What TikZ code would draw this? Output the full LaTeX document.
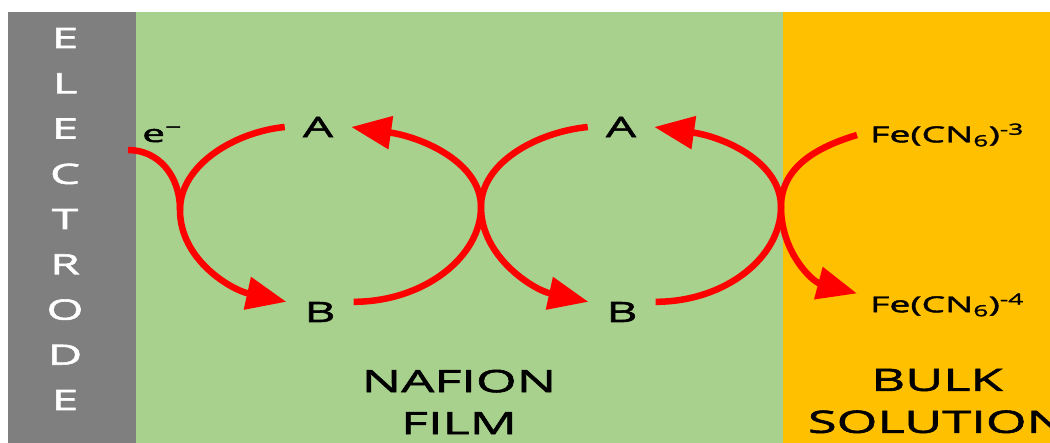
\documentclass[tikz,border=0pt]{standalone}
\usepackage{fontspec}
\setmainfont{Open Sans}[FakeStretch=1.7, FakeBold=2]
\usetikzlibrary{arrows.meta,positioning}
\definecolor{electrodegray}{HTML}{7F7F7F}
\definecolor{nafiongreen}{HTML}{A9D18E}
\definecolor{bulkorange}{HTML}{FFC000}
\definecolor{redoxred}{HTML}{FF0000}

\begin{document}
\begin{tikzpicture}[
  x=1pt, y=-1pt,
  redox/.style={draw=redoxred, line width=6.5pt},
  flow/.style={redox, -{Triangle[length=40pt, width=32pt]}},
  species/.style={font=\fontsize{28}{30}\selectfont, inner xsep=18pt, inner ysep=0pt, text depth=0pt},
  ion/.style={font=\fontsize{22}{24}\selectfont, inner xsep=13pt, inner ysep=0pt, anchor=west},
  region/.style={font=\fontsize{30.8}{42}\selectfont, align=center, inner sep=0pt},
  elec/.style={font=\fontsize{28}{30}\selectfont, text=white, inner sep=0pt, text depth=0pt}
]
\clip (0,0) rectangle (1050,443);
\fill[white] (0,0) rectangle (1050,443);

% electrode | nafion film | bulk solution
\fill[electrodegray] (8,12) rectangle (136,443);
\fill[nafiongreen] (136,12) rectangle (783,443);
\fill[bulkorange] (783,12) rectangle (1050,443);

\foreach \ch [count=\i] in {E,L,E,C,T,R,O,D,E}
  \node[elec] (el\i) at (65,{38+45.25*(\i-1)}) {\ch};

\node[anchor=base west, inner sep=0pt, font=\fontsize{24}{26}\selectfont] (em) at (142,142) {e\textsuperscript{−}};
\node[species] (A1) at (318,127) {A};
\node[species] (B1) at (320,312) {B};
\node[species] (A2) at (621,127) {A};
\node[species] (B2) at (622,312) {B};
\node[ion] (fe3) at (857,135) {Fe(CN\textsubscript{6})\textsuperscript{-3}};
\node[ion] (fe4) at (857,305) {Fe(CN\textsubscript{6})\textsuperscript{-4}};

\node[region] (nafion) at (459,402) {NAFION\\FILM};
\node[region] (bulk) at (937,401) {BULK\\SOLUTION};

\coordinate (eIn) at (128,150);
\coordinate (turn1) at (180,210);
\coordinate (kiss1) at (481,207);
\coordinate (kiss2) at (781,207);

\draw[redox] (eIn) .. controls +(30,0) and +(0,-35) .. (turn1);
\draw[flow] (A1.west) .. controls +(-50,5) and +(0,-45) .. (turn1)
  .. controls +(0,50) and +(-55,-12) .. (B1.north west);
\draw[flow] (B1.north east) .. controls +(70,0) and +(0,50) .. (kiss1)
  .. controls +(0,-45) and +(70,10) .. (A1.east);
\draw[flow] (A2.west) .. controls +(-50,5) and +(0,-45) .. (kiss1)
  .. controls +(0,50) and +(-55,-12) .. (B2.north west);
\draw[flow] (B2.north east) .. controls +(70,0) and +(0,50) .. (kiss2)
  .. controls +(0,-45) and +(70,10) .. (A2.east);
\draw[flow] (fe3.west) .. controls +(-40,12) and +(0,-40) .. (kiss2)
  .. controls +(0,45) and +(-45,-12) .. (fe4.north west);

\end{tikzpicture}
\end{document}
